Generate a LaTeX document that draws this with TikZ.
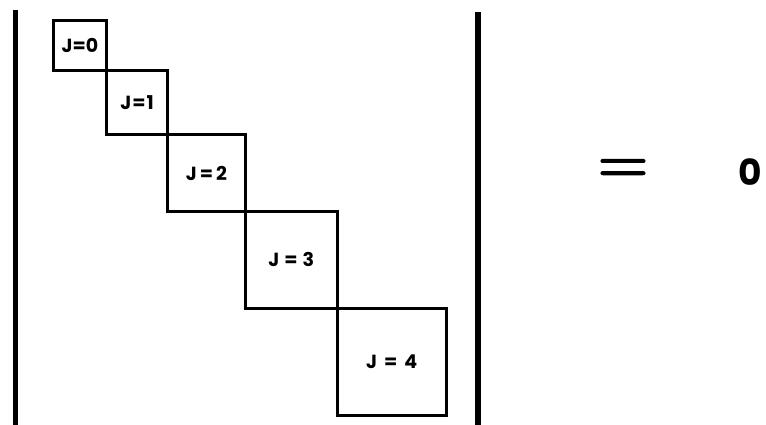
\documentclass[tikz,border=0pt]{standalone}
\usepackage{fontspec}
\setmainfont{Poppins}
\newfontfamily\eqfont[FakeBold=2.5]{Latin Modern Roman}
\begin{document}
\begin{tikzpicture}[x=1pt,y=-1pt,
  blk/.style={draw=black,line width=3pt,rectangle,inner sep=0pt,
    font=\fontsize{19}{19}\selectfont\bfseries},
  vbar/.style={line width=6pt}]
\useasboundingbox (0,0) rectangle (766,425);
\draw[vbar,line width=5pt] (15,10) -- (15,425);
\draw[vbar] (477.5,12) -- (477.5,425);
\node[blk,minimum width=53pt,minimum height=49.5pt] (b0) at (80,45.75) {J=0};
\node[blk,minimum width=61pt,minimum height=64.5pt] (b1) at (137,102.75) {J\hspace{1pt}=\hspace{1pt}1};
\node[blk,minimum width=78pt,minimum height=76pt] (b2) at (206.5,173) {J\hspace{3pt}=\hspace{3pt}2};
\node[blk,minimum width=91.5pt,minimum height=97.5pt] (b3) at (291.25,259.75) {J\hspace{5pt}=\hspace{5pt}3};
\node[blk,minimum width=109.5pt,minimum height=106.5pt] (b4) at (391.75,361.75) {J\hspace{7pt}=\hspace{7pt}4};
\node[inner sep=0pt,font=\fontsize{69}{69}\eqfont] (eq) at (623,172) {=};
\node[inner sep=0pt,font=\fontsize{36}{36}\selectfont\bfseries] (zero) at (750,172) {0};
\end{tikzpicture}
\end{document}
